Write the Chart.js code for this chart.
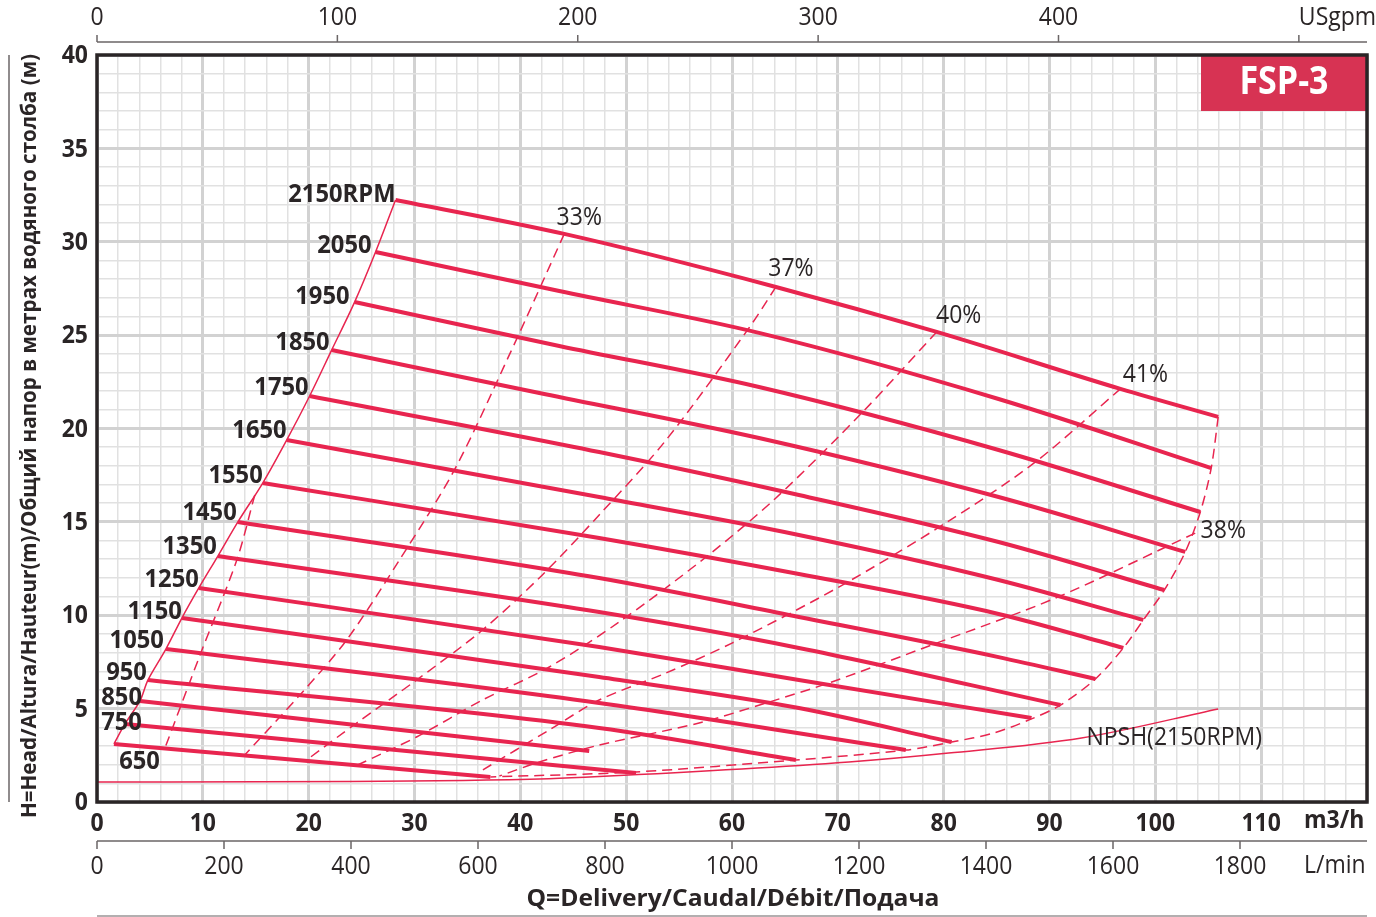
<!DOCTYPE html>
<html><head><meta charset="utf-8">
<script src="https://cdn.jsdelivr.net/npm/chart.js@4.4.1/dist/chart.umd.min.js"></script>
<style>html,body{margin:0;padding:0;background:#fff;}#wrap{width:1376px;height:917px;position:relative;}</style>
</head><body><div id="wrap"><canvas id="c" width="1376" height="917"></canvas></div>
<script>
// ---------- DATA ----------
const speeds = [2150,2050,1950,1850,1750,1650,1550,1450,1350,1250,1150,1050,950,850,750,650];
// [Q m3/h, H m]
const curve2150 = [[28.21,32.24],[44.15,30.42],[64.15,27.58],[79.34,25.17],[96.70,22.12],[105.94,20.62]];
const curve2050 = [[26.32,29.45],[43.68,27.36],[62.55,25.12],[85.19,21.58],[105.28,17.88]];
const curve1950 = [[24.34,26.77],[43.68,24.42],[62.55,22.22],[85.19,18.85],[104.25,15.53]];
const curve1850 = [[22.17,24.20],[42.26,21.85],[62.55,19.49],[85.19,16.33],[102.83,13.39]];
const curve1750 = [[20.09,21.74],[47.45,18.74],[66.32,16.44],[85.19,13.92],[100.85,11.35]];
const curve1650 = [[17.92,19.38],[47.45,16.33],[66.32,14.30],[85.19,11.89],[98.87,9.75]];
const curve1550 = [[15.66,17.08],[47.45,14.14],[66.32,12.21],[85.19,10.07],[96.98,8.25]];
const curve1450 = [[13.30,14.99],[47.45,11.99],[66.32,9.91],[85.19,7.76],[94.34,6.59]];
const curve1350 = [[11.42,13.17],[47.45,10.17],[66.32,8.25],[91.04,5.19]];
const curve1250 = [[9.62,11.46],[47.45,8.30],[66.32,6.53],[88.30,4.50]];
const curve1150 = [[8.02,9.85],[47.45,6.69],[66.32,5.03],[80.75,3.21]];
const curve1050 = [[6.51,8.19],[47.45,5.30],[76.42,2.78]];
const curve950  = [[4.81,6.53],[47.45,3.96],[66.04,2.25]];
const curve850  = [[4.06,5.41],[46.51,2.73]];
const curve750  = [[2.64,4.18],[50.94,1.55]];
const curve650  = [[1.60,3.11],[37.17,1.34]];

// end-of-curve envelope (dashed)
const endLine = [[105.94,20.62],[105.28,17.88],[104.25,15.53],[102.83,13.39],[100.85,11.35],[98.87,9.75],[96.98,8.25],[94.34,6.59],[91.04,5.19],[88.30,4.45],[84.72,3.69],[80.75,3.21],[76.42,2.78],[66.04,2.25],[50.94,1.61],[37.17,1.34]];

// iso-efficiency lines (dashed)
const eff33 = [[44.15,30.42],[38.96,23.94],[33.77,17.78],[28.58,12.96],[23.58,8.67],[19.34,5.84],[13.96,2.52]];
const eff37 = [[64.15,27.58],[61.60,25.38],[53.77,19.38],[47.45,15.37],[42.08,12.16],[36.42,9.21],[30.19,6.53],[24.53,4.23],[19.81,2.25]];
const eff40 = [[79.34,25.17],[72.26,20.83],[64.15,16.28],[57.55,13.12],[49.34,9.64],[42.74,7.23],[36.42,5.46],[30.19,3.48],[24.62,1.98]];
const eff41 = [[96.70,22.12],[88.68,18.21],[80.19,14.94],[70.09,11.51],[60.00,8.51],[53.77,6.91],[47.45,5.46],[42.74,3.86],[36.42,1.71]];
const eff38 = [[103.77,14.40],[90.57,10.92],[78.87,8.41],[69.43,6.43],[63.21,5.30],[56.89,4.23],[47.45,3.05],[41.79,2.14],[38.02,1.39]];
const effLow = [[14.91,16.44],[13.21,12.96],[9.81,7.98],[6.42,2.89]];
const effNames = ['33%','37%','40%','41%','38%'];

// NPSH at 2150 RPM
const npshQ = [0, 23.9, 42.7, 47.45, 71.04, 80.47, 93.02, 105.94];
const npshH = [1.07, 1.10, 1.25, 1.36, 2.14, 2.62, 3.43, 4.98];

// tick labels
const xTicks = [0,10,20,30,40,50,60,70,80,90,100,110];
const yTicks = [0,5,10,15,20,25,30,35,40];
const lpmTicks = [0,200,400,600,800,1000,1200,1400,1600,1800];
const gpmTicks = [0,100,200,300,400];

// ---------- STYLE ----------
const RED = '#e8254f';
const TXT = '#2a2526';
const LPM_TO_M3H = 0.06, GPM_TO_M3H = 0.227125;
const rpmLabelDx = [0,-4,-5,-2,-1,0,0,-1,-1,0,0,-2,-1,2,17,46];
const rpmLabelDy = [-5,-6,-5,-7,-8,-9,-7,-9,-9,-8,-6,-8,-7,-3,-1,18];
const effLabelOff = [[15,-16],[15,-18],[22,-16],[25,-14],[28,-2]];

const speedCurves = [curve2150,curve2050,curve1950,curve1850,curve1750,curve1650,curve1550,curve1450,curve1350,curve1250,curve1150,curve1050,curve950,curve850,curve750,curve650];
const effCurves = [eff33,eff37,eff40,eff41,eff38];
const pts = a => a.map(p => ({x:p[0], y:p[1]}));

const datasets = [];
speedCurves.forEach(c => datasets.push({data: pts(c), borderColor: RED, borderWidth: 4, cubicInterpolationMode: 'monotone'}));
datasets.push({data: pts(speedCurves.map(c => c[0]).reverse()), borderColor: RED, borderWidth: 1.5, tension: 0.3});
datasets.push({data: pts(endLine), borderColor: RED, borderWidth: 1.5, borderDash: [10,6], tension: 0.3});
effCurves.concat([effLow]).forEach(c => datasets.push({data: pts(c), borderColor: RED, borderWidth: 1.5, borderDash: [10,6], tension: 0.3}));
datasets.push({data: npshQ.map((q,i)=>({x:q, y:npshH[i]})), borderColor: RED, borderWidth: 1.5, cubicInterpolationMode: 'monotone'});

function txt(ctx, s, x, y, o) {
  ctx.save();
  ctx.font = o.font; ctx.fillStyle = o.color || TXT;
  ctx.textBaseline = 'middle';
  let sx = o.sx || 1;
  if (o.fitW) { sx = o.fitW / ctx.measureText(s).width; }
  const w = ctx.measureText(s).width * sx;
  let x0 = x;
  if (o.align === 'center') x0 = x - w/2; else if (o.align === 'right') x0 = x - w;
  ctx.translate(x0, y);
  ctx.scale(sx, 1);
  ctx.textAlign = 'left';
  ctx.fillText(s, 0, 0);
  ctx.restore();
}

const BOLD = 'bold 25px "Open Sans"', REG = '25px "Open Sans"';
const decor = {
  id: 'decor',
  afterDatasetsDraw(chart) {
    const ctx = chart.ctx, xs = chart.scales.x, ys = chart.scales.y, a = chart.chartArea;
    const px = v => xs.getPixelForValue(v), py = v => ys.getPixelForValue(v);
    // model box
    ctx.save();
    ctx.fillStyle = '#d73353';
    ctx.fillRect(1201, a.top, a.right - 1201, 56);
    ctx.restore();
    txt(ctx, 'FSP-3', (1201 + a.right)/2, a.top + 28, {font: 'bold 40px "Open Sans"', color: '#fff', align: 'center', sx: 0.85});
    // plot frame
    ctx.save();
    ctx.strokeStyle = '#2a2526'; ctx.lineWidth = 3.5;
    ctx.strokeRect(a.left, a.top, a.right - a.left, a.bottom - a.top);
    ctx.restore();
    // rpm labels
    speedCurves.forEach((c,i) => {
      const s = i === 0 ? speeds[i] + 'RPM' : String(speeds[i]);
      txt(ctx, s, px(c[0][0]) + rpmLabelDx[i], py(c[0][1]) + rpmLabelDy[i], {font: BOLD, align: 'right', sx: 0.95});
    });
    // efficiency labels
    effCurves.forEach((c,i) => {
      txt(ctx, effNames[i], px(c[0][0]) + effLabelOff[i][0], py(c[0][1]) + effLabelOff[i][1], {font: REG, align: 'center', sx: 0.92});
    });
    // NPSH label
    const nl = npshQ.length - 1;
    txt(ctx, 'NPSH(2150RPM)', px(npshQ[nl]) - 44, py(npshH[nl]) + 29, {font: REG, align: 'center', sx: 0.92});
    // y ticks
    yTicks.forEach(v => txt(ctx, String(v), 88, py(v) + 1, {font: BOLD, align: 'right', sx: 0.92}));
    // x ticks (m3/h)
    xTicks.forEach(v => txt(ctx, String(v), px(v), 824, {font: BOLD, align: 'center', sx: 0.92}));
    txt(ctx, 'm3/h', 1304, 821, {font: BOLD, align: 'left', sx: 0.92});
    // L/min axis
    ctx.save();
    ctx.strokeStyle = '#6b6667'; ctx.lineWidth = 1.5;
    ctx.beginPath(); ctx.moveTo(a.left, 841); ctx.lineTo(a.right, 841);
    lpmTicks.forEach(v => { const x = px(v * LPM_TO_M3H); ctx.moveTo(x, 841); ctx.lineTo(x, 849); });
    ctx.stroke();
    // USgpm axis
    ctx.beginPath(); ctx.moveTo(a.left, 42); ctx.lineTo(a.right, 42);
    gpmTicks.concat([500]).forEach(v => { const x = px(v * GPM_TO_M3H); ctx.moveTo(x, 42); ctx.lineTo(x, 35); });
    ctx.stroke();
    // bottom rule and left rule
    ctx.strokeStyle = '#9a9596';
    ctx.beginPath(); ctx.moveTo(a.left, 916); ctx.lineTo(a.right, 916); ctx.stroke();
    ctx.strokeStyle = '#6b6667';
    ctx.beginPath(); ctx.moveTo(9, a.top); ctx.lineTo(9, a.bottom); ctx.stroke();
    ctx.restore();
    lpmTicks.forEach(v => txt(ctx, String(v), px(v * LPM_TO_M3H), 867, {font: REG, align: 'center', sx: 0.92}));
    txt(ctx, 'L/min', 1304, 866, {font: REG, align: 'left', sx: 0.92});
    gpmTicks.forEach(v => txt(ctx, String(v), px(v * GPM_TO_M3H), 18, {font: REG, align: 'center', sx: 0.92}));
    txt(ctx, 'USgpm', px(500 * GPM_TO_M3H), 18, {font: REG, align: 'left', sx: 0.92});
    // axis titles
    txt(ctx, 'Q=Delivery/Caudal/Débit/Подача', 733, 899, {font: 'bold 23px "Open Sans"', align: 'center', fitW: 413});
    ctx.save();
    ctx.translate(30, 436);
    ctx.rotate(-Math.PI/2);
    txt(ctx, 'H=Head/Altura/Hauteur(m)/Общий напор в метрах водяного столба (м)', 0, 0, {font: 'bold 22px "Open Sans"', align: 'center', fitW: 764});
    ctx.restore();
  }
};

const gridX = {
  color: c => (c.tick && c.tick.value % 10 === 0) ? '#d2d2d2' : '#e1e1e1',
  lineWidth: c => (c.tick && c.tick.value % 10 === 0) ? 3 : 1.5,
  drawTicks: false
};
const gridY = {
  color: c => (c.tick && c.tick.value % 5 === 0) ? '#d2d2d2' : '#e1e1e1',
  lineWidth: c => (c.tick && c.tick.value % 5 === 0) ? 3 : 1.5,
  drawTicks: false
};

new Chart(document.getElementById('c'), {
  type: 'scatter',
  data: { datasets },
  options: {
    responsive: false, animation: false, events: [],
    layout: { padding: { left: 97, right: 9, top: 55, bottom: 115 } },
    elements: { point: { radius: 0 }, line: { fill: false } },
    datasets: { scatter: { showLine: true, pointRadius: 0 } },
    plugins: { legend: { display: false }, tooltip: { enabled: false } },
    scales: {
      x: { type: 'linear', min: 0, max: 120, ticks: { display: false, stepSize: 2 }, grid: gridX, border: { display: false } },
      y: { type: 'linear', min: 0, max: 40, ticks: { display: false, stepSize: 1 }, grid: gridY, border: { display: false } }
    }
  },
  plugins: [decor]
});
</script>
</body></html>
